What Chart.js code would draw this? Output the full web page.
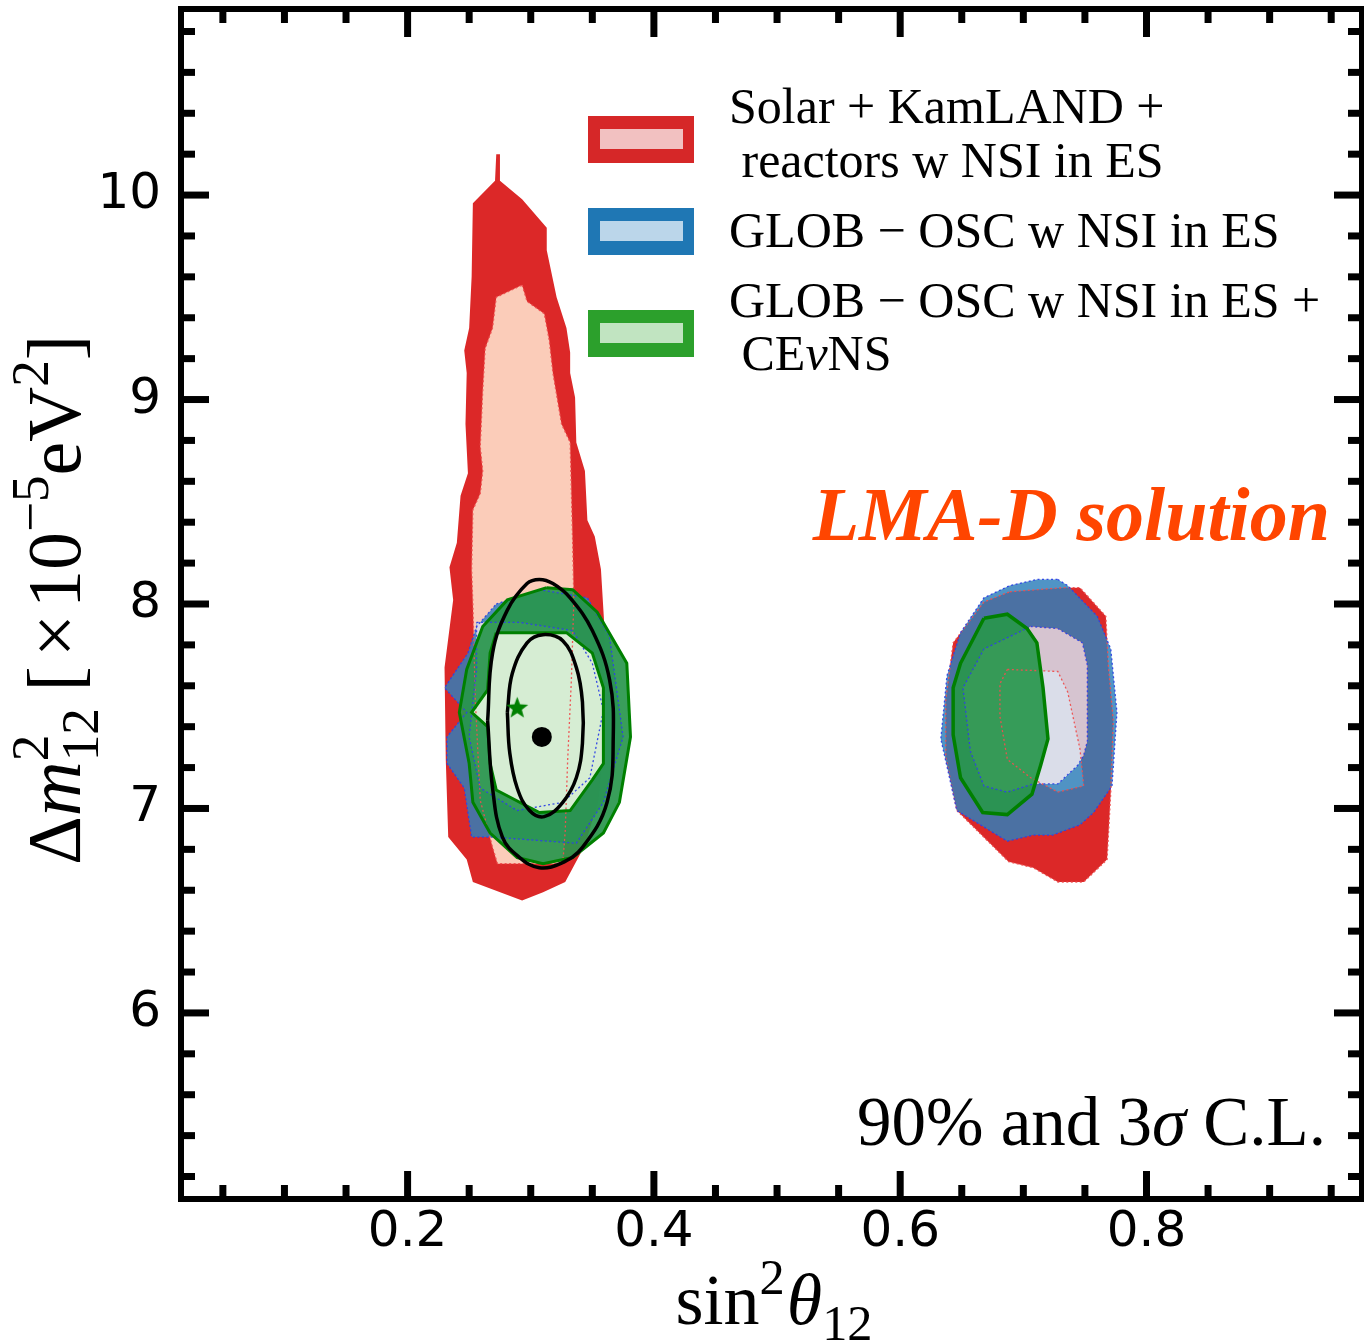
<!DOCTYPE html>
<html><head><meta charset="utf-8">
<script src="https://cdn.jsdelivr.net/npm/chart.js@4.4.1/dist/chart.umd.min.js"></script>
<style>html,body{margin:0;padding:0;background:#fff;}#wrap{width:1364px;height:1341px;}</style>
</head><body><div id="wrap"><canvas id="c" width="1364" height="1341"></canvas></div>
<script>
// ---------------- data (sin^2 theta12 , dm2 [1e-5 eV^2]) ----------------
const xTickVals = [0.2, 0.4, 0.6, 0.8];
const xMinorVals = [0.05,0.1,0.15,0.25,0.3,0.35,0.45,0.5,0.55,0.65,0.7,0.75,0.85,0.9,0.95];
const yTickVals = [6, 7, 8, 9, 10];
const yMinorVals = [5.2,5.4,5.6,5.8,6.2,6.4,6.6,6.8,7.2,7.4,7.6,7.8,8.2,8.4,8.6,8.8,9.2,9.4,9.6,9.8,10.2,10.4,10.6,10.8];

// Solar + KamLAND + reactors (red)
const red3sL_x = [0.272,0.275,0.275,0.293,0.313,0.313,0.321,0.329,0.332,0.332,0.336,0.337,0.344,0.346,0.352,0.357,0.360,0.360,0.355,0.344,0.328,0.310,0.293,0.253,0.248,0.233,0.231,0.230,0.237,0.234,0.240,0.243,0.249,0.247,0.248,0.246,0.250,0.252,0.253,0.271];
const red3sL_y = [10.20,10.20,10.07,9.98,9.84,9.73,9.50,9.35,9.23,9.13,9.01,8.79,8.65,8.41,8.33,8.17,7.87,7.43,7.04,6.82,6.64,6.59,6.55,6.64,6.75,6.86,7.24,7.69,8.02,8.18,8.30,8.53,8.64,8.88,9.13,9.24,9.35,9.60,9.96,10.07];
const red90L_x = [0.293,0.297,0.311,0.315,0.318,0.325,0.332,0.334,0.335,0.333,0.330,0.328,0.326,0.273,0.269,0.259,0.255,0.253,0.252,0.253,0.259,0.261,0.259,0.261,0.263,0.269,0.272];
const red90L_y = [9.56,9.48,9.42,9.29,9.13,8.88,8.79,8.31,8.02,7.63,7.24,6.89,6.73,6.73,6.81,7.04,7.53,8.00,8.17,8.46,8.54,8.65,8.77,9.04,9.25,9.35,9.50];
const red3sR_x = [0.689,0.733,0.746,0.767,0.769,0.773,0.771,0.768,0.749,0.728,0.708,0.688,0.646,0.637,0.637,0.643,0.668];
const red3sR_y = [8.06,8.08,8.08,7.94,7.70,7.43,7.08,6.75,6.64,6.64,6.71,6.74,6.99,7.25,7.53,7.81,8.01];
const red90R_x = [0.687,0.728,0.736,0.746,0.749,0.728,0.706,0.687,0.681,0.681];
const red90R_y = [7.68,7.67,7.57,7.29,7.11,7.08,7.15,7.24,7.45,7.61];

// GLOB-OSC w NSI in ES (blue)
const blue3sL_x = [0.272,0.307,0.346,0.364,0.375,0.359,0.337,0.269,0.252,0.246,0.232,0.232,0.248,0.230,0.249,0.256];
const blue3sL_y = [8.00,8.07,8.03,7.84,7.35,7.03,6.83,6.86,6.86,7.10,7.22,7.35,7.47,7.59,7.76,7.89];
const blue90L_x = [0.256,0.291,0.334,0.350,0.359,0.348,0.326,0.289,0.259,0.250,0.256];
const blue90L_y = [7.91,7.91,7.87,7.71,7.48,7.15,7.03,6.99,7.10,7.35,7.68];
const blue3sR_x = [0.728,0.736,0.760,0.771,0.776,0.772,0.757,0.746,0.724,0.708,0.687,0.646,0.633,0.638,0.649,0.668,0.689,0.711];
const blue3sR_y = [8.12,8.09,7.94,7.78,7.47,7.11,6.98,6.92,6.87,6.87,6.84,6.99,7.34,7.65,7.86,8.03,8.09,8.12];
const blue90R_x = [0.706,0.728,0.748,0.752,0.752,0.749,0.744,0.728,0.708,0.687,0.668,0.657,0.651,0.668];
const blue90R_y = [7.89,7.88,7.81,7.70,7.33,7.26,7.21,7.12,7.12,7.08,7.11,7.28,7.59,7.78];

// GLOB-OSC w NSI in ES + CEvNS (green)
const green3sL_x = [0.313,0.334,0.354,0.378,0.381,0.372,0.359,0.334,0.310,0.289,0.267,0.253,0.250,0.242,0.248,0.261,0.281];
const green3sL_y = [8.08,8.07,7.96,7.71,7.35,7.03,6.88,6.76,6.73,6.76,6.88,7.03,7.22,7.47,7.68,7.89,8.02];
const green90L_x = [0.272,0.329,0.350,0.359,0.359,0.350,0.332,0.307,0.272,0.267,0.265,0.252,0.265,0.267];
const green90L_y = [7.86,7.86,7.76,7.59,7.22,7.14,6.99,6.98,7.09,7.22,7.40,7.47,7.58,7.76];
const green3sR_x = [0.668,0.687,0.703,0.711,0.716,0.720,0.714,0.707,0.687,0.667,0.649,0.643,0.643,0.649];
const green3sR_y = [7.93,7.95,7.88,7.81,7.59,7.34,7.21,7.07,6.97,6.98,7.15,7.36,7.59,7.71];

// black contours
const black3s_x = [0.265,0.269,0.281,0.297,0.307,0.318,0.332,0.350,0.364,0.367,0.362,0.342,0.324,0.307,0.291,0.277,0.269];
const black3s_y = [7.43,7.76,7.97,8.10,8.12,8.10,8.03,7.87,7.63,7.35,7.03,6.81,6.73,6.71,6.76,6.86,7.10];
const black90_x = [0.281,0.285,0.297,0.310,0.326,0.337,0.342,0.342,0.337,0.326,0.311,0.299,0.289,0.283];
const black90_y = [7.47,7.66,7.81,7.85,7.82,7.69,7.52,7.32,7.15,7.03,6.96,6.99,7.10,7.27];

const bestFit_x = [0.309], bestFit_y = [7.35];
const star_x = [0.289], star_y = [7.49];

const legendLabels = [["Solar + KamLAND +", " reactors w NSI in ES"], ["GLOB \u2212 OSC w NSI in ES"], ["GLOB \u2212 OSC w NSI in ES +", " CE\u03bdNS"]];
const legendOuter = ['#d62728', '#1f77b4', '#2ca02c'];
const legendInner = ['#f2c1c1', '#bbd6ea', '#c1e4c1'];

// ---------------- helpers ----------------
function poly(xs, ys) { const p = xs.map((x, i) => ({x: x, y: ys[i]})); p.push({x: xs[0], y: ys[0]}); return p; }
function ring(ox, oy, ix, iy) { const o = poly(ox, oy); const inner = poly(ix, iy).reverse(); return o.concat(inner, [o[0]]); }
function fillDs(data, color) { return {data: data, backgroundColor: color, borderWidth: 0, borderColor: 'rgba(0,0,0,0)', fill: 'shape', pointRadius: 0, tension: 0}; }
function lineDs(data, color, w, dash, tension) { return {data: data, borderColor: color, borderWidth: w, borderDash: dash || [], fill: false, pointRadius: 0, tension: tension || 0}; }
function makeStar(r, color) {
  const s = Math.ceil(r * 2 + 2), c = document.createElement('canvas'); c.width = s; c.height = s;
  const g = c.getContext('2d'); g.fillStyle = color; g.beginPath();
  for (let i = 0; i < 10; i++) { const a = -Math.PI / 2 + i * Math.PI / 5, rr = i % 2 ? r * 0.42 : r; g.lineTo(s / 2 + rr * Math.cos(a), s / 2 + rr * Math.sin(a)); }
  g.closePath(); g.fill(); return c;
}

const RED = 'rgb(220,40,40)', SALMON = 'rgb(251,204,185)';
const BLUE3 = 'rgba(47,128,187,0.84)', BLUE90 = 'rgba(213,218,231,0.88)';
const GREEN3 = 'rgba(40,150,76,0.92)', GREEN90 = 'rgb(214,237,211)';
const REDDOT = 'rgba(238,80,80,0.95)', BLUEDOT = 'rgba(45,65,230,0.95)', GEDGE = 'rgb(0,128,0)';

const layers = [
  fillDs(poly(red3sL_x, red3sL_y), RED),
  fillDs(poly(red3sR_x, red3sR_y), RED),
  fillDs(poly(red90L_x, red90L_y), SALMON),
  fillDs(poly(red90R_x, red90R_y), 'rgb(251,244,242)'),
  fillDs(ring(blue3sL_x, blue3sL_y, blue90L_x, blue90L_y), BLUE3),
  fillDs(ring(blue3sR_x, blue3sR_y, blue90R_x, blue90R_y), BLUE3),
  fillDs(poly(blue90L_x, blue90L_y), BLUE90),
  fillDs(poly(blue90R_x, blue90R_y), BLUE90),
  fillDs(ring(green3sL_x, green3sL_y, green90L_x, green90L_y), GREEN3),
  fillDs(poly(green3sR_x, green3sR_y), GREEN3),
  fillDs(poly(green90L_x, green90L_y), GREEN90),
  lineDs(poly(red90L_x, red90L_y), REDDOT, 1.3, [2, 2.5]),
  lineDs(poly(red3sR_x, red3sR_y), REDDOT, 1.3, [2, 2.5]),
  lineDs(poly(red90R_x, red90R_y), REDDOT, 1.3, [2, 2.5]),
  lineDs(poly(blue3sL_x, blue3sL_y), BLUEDOT, 1.3, [2, 2.5]),
  lineDs(poly(blue90L_x, blue90L_y), BLUEDOT, 1.3, [2, 2.5]),
  lineDs(poly(blue3sR_x, blue3sR_y), BLUEDOT, 1.3, [2, 2.5]),
  lineDs(poly(blue90R_x, blue90R_y), BLUEDOT, 1.3, [2, 2.5]),
  lineDs(poly(green3sL_x, green3sL_y), GEDGE, 3),
  lineDs(poly(green90L_x, green90L_y), GEDGE, 3),
  lineDs(poly(green3sR_x, green3sR_y), GEDGE, 3.5),
  lineDs(poly(black3s_x, black3s_y), '#000', 3.5, null, 0.4),
  lineDs(poly(black90_x, black90_y), '#000', 3.5, null, 0.4),
  {data: bestFit_x.map((x, i) => ({x: x, y: bestFit_y[i]})), showLine: false, pointRadius: 10, pointBackgroundColor: '#000', pointBorderWidth: 0, borderColor: '#000'},
  {data: star_x.map((x, i) => ({x: x, y: star_y[i]})), showLine: false, pointRadius: 12, pointStyle: makeStar(11.5, 'rgb(0,128,0)'), borderColor: 'rgb(0,128,0)'}
];
layers.forEach((d, i) => { d.order = layers.length - i; d.pointHitRadius = 0; });

// ---------------- rich text ----------------
const SERIF = '"Liberation Serif","DejaVu Serif",serif';
function fnt(size, it, bold) { return (it ? 'italic ' : '') + (bold ? 'bold ' : '') + size + 'px ' + SERIF; }
function segWidth(ctx, s, size) {
  if (s.stack) { ctx.font = fnt(size * 0.7); return Math.max(ctx.measureText(s.sup).width, ctx.measureText(s.sub).width); }
  ctx.font = fnt(s.pos ? size * 0.7 : size, s.it); return ctx.measureText(s.t).width;
}
function richWidth(ctx, segs, size) { let w = 0; for (const s of segs) w += segWidth(ctx, s, size) + (s.gap || 0) * size; return w; }
function drawRich(ctx, segs, x, y, size) {
  ctx.textAlign = 'left'; ctx.textBaseline = 'alphabetic';
  for (const s of segs) {
    const w = segWidth(ctx, s, size);
    if (s.stack) { ctx.font = fnt(size * 0.7); ctx.fillText(s.sup, x, y - size * 0.42); ctx.fillText(s.sub, x, y + size * 0.24); }
    else { const dy = s.pos === 'sup' ? -size * 0.42 : (s.pos === 'sub' ? size * 0.22 : 0); ctx.font = fnt(s.pos ? size * 0.7 : size, s.it); ctx.fillText(s.t, x, y + dy); }
    x += w + (s.gap || 0) * size;
  }
}
function textSegs(str) {
  const out = []; const parts = str.split(/(\u03bd|\u03c3)/);
  for (const p of parts) { if (!p) continue; out.push({t: p, it: (p === '\u03bd' || p === '\u03c3')}); }
  return out;
}

const decor = {
  id: 'decor',
  afterDraw(chart) {
    const ctx = chart.ctx, a = chart.chartArea, sx = chart.scales.x, sy = chart.scales.y;
    ctx.save();
    ctx.strokeStyle = '#000'; ctx.lineCap = 'butt';
    const seg = (x1, y1, x2, y2) => { ctx.beginPath(); ctx.moveTo(x1, y1); ctx.lineTo(x2, y2); ctx.stroke(); };
    ctx.lineWidth = 7;
    const xt = (vals, len) => vals.forEach(v => { const p = sx.getPixelForValue(v); seg(p, a.bottom, p, a.bottom - len); seg(p, a.top, p, a.top + len); });
    const yt = (vals, len) => vals.forEach(v => { const p = sy.getPixelForValue(v); seg(a.left, p, a.left + len, p); seg(a.right, p, a.right - len, p); });
    xt(xMinorVals, 14); xt(xTickVals, 28); yt(yMinorVals, 14); yt(yTickVals, 28);
    ctx.lineWidth = 6; ctx.lineJoin = 'miter';
    ctx.strokeRect(a.left, a.top, a.right - a.left, a.bottom - a.top);

    // legend
    const boxTop = [116, 208, 310];
    legendLabels.forEach((lines, i) => {
      ctx.fillStyle = legendOuter[i]; ctx.fillRect(588, boxTop[i], 106, 47);
      ctx.fillStyle = legendInner[i]; ctx.fillRect(600, boxTop[i] + 13, 83, 20);
    });
    ctx.fillStyle = '#000';
    const base = [[123, 177], [247], [317, 370]];
    legendLabels.forEach((lines, i) => lines.forEach((ln, j) => drawRich(ctx, textSegs(ln), 729, base[i][j], 50)));

    // annotation texts
    const cl = textSegs('90% and 3\u03c3 C.L.');
    const wcl = richWidth(ctx, cl, 69);
    drawRich(ctx, cl, 1326 - wcl, 1145, 69);

    ctx.font = 'italic bold 76px ' + SERIF; ctx.fillStyle = '#ff4500'; ctx.textAlign = 'right'; ctx.textBaseline = 'alphabetic';
    ctx.fillText('LMA-D solution', 1330, 540);

    // axis titles
    ctx.fillStyle = '#000';
    const xl = [{t: 'sin'}, {t: '2', pos: 'sup', gap: 0.03}, {t: '\u03b8', it: true}, {t: '12', pos: 'sub'}];
    const wx = richWidth(ctx, xl, 72);
    drawRich(ctx, xl, 774 - wx / 2, 1324, 72);
    const yl = [{t: '\u0394'}, {t: 'm', it: true}, {stack: true, sup: '2', sub: '12', gap: 0.22}, {t: '[', gap: 0.12}, {t: '\u00d7', gap: 0.08}, {t: '10'}, {t: '\u22125', pos: 'sup'}, {t: 'eV'}, {t: '2', pos: 'sup'}, {t: ']'}];
    const wy = richWidth(ctx, yl, 76);
    ctx.translate(80, 600); ctx.rotate(-Math.PI / 2);
    drawRich(ctx, yl, -wy / 2, 0, 76);
    ctx.restore();
  }
};

function noPad(s) { s.paddingTop = 0; s.paddingBottom = 0; s.paddingLeft = 0; s.paddingRight = 0; }

new Chart(document.getElementById('c'), {
  type: 'line',
  data: {datasets: layers},
  options: {
    responsive: false, animation: false, devicePixelRatio: 1, events: [],
    layout: {autoPadding: false, padding: {top: 9, right: 2, left: 0, bottom: 0}},
    plugins: {legend: {display: false}, tooltip: {enabled: false}, filler: {propagate: false}},
    scales: {
      x: {type: 'linear', min: 0.016, max: 0.975,
        grid: {display: false, drawTicks: false}, border: {display: false},
        ticks: {font: {family: 'DejaVu Sans', size: 50}, color: '#000', padding: 4, maxRotation: 0, autoSkip: false, callback: v => v.toFixed(1)},
        afterBuildTicks: s => { s.ticks = xTickVals.map(v => ({value: v})); },
        afterFit: s => { s.height = 142; noPad(s); }},
      y: {type: 'linear', min: 5.09, max: 10.91,
        grid: {display: false, drawTicks: false}, border: {display: false},
        ticks: {font: {family: 'DejaVu Sans', size: 50}, color: '#000', padding: 20, autoSkip: false, callback: v => String(v)},
        afterBuildTicks: s => { s.ticks = yTickVals.map(v => ({value: v})); },
        afterFit: s => { s.width = 181; noPad(s); }}
    }
  },
  plugins: [decor]
});
</script></body></html>
